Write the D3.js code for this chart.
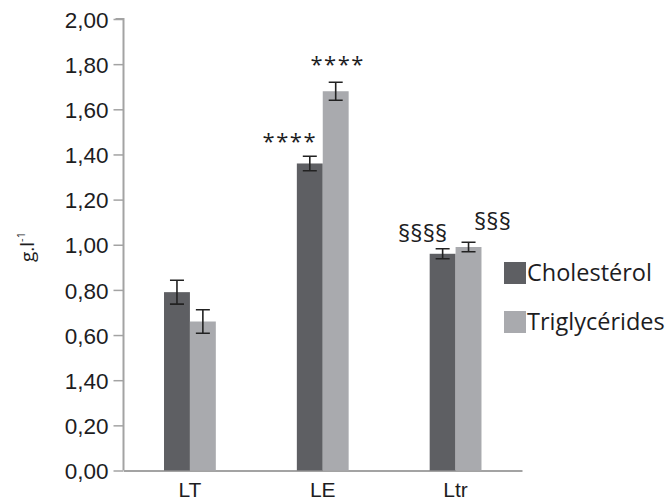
<!DOCTYPE html>
<html>
<head>
<meta charset="utf-8">
<script src="https://cdn.jsdelivr.net/npm/d3@7"></script>
<style>
  html, body { margin: 0; padding: 0; background: #fff; }
  svg { display: block; font-family: "Open Sans", "DejaVu Sans", sans-serif; }
</style>
</head>
<body>
<svg id="chart" width="666" height="502"></svg>
<script>
// Lipid groups on the x axis
const categories = ["LT", "LE", "Ltr"];
// Series names shown in the legend
const seriesNames = ["Cholestérol", "Triglycérides"];
// Mean concentrations (g/l) per group
const cholesterol = [0.79, 1.36, 0.96];
const triglycerides = [0.66, 1.68, 0.99];
// Error half-widths (g/l)
const cholesterolErr = [0.053, 0.032, 0.022];
const triglyceridesErr = [0.052, 0.040, 0.021];
// Significance marks above each bar
const cholesterolMarks = ["", "****", "§§§§"];
const triglyceridesMarks = ["", "****", "§§§"];
// Y tick values and their printed labels
const yTickValues = [0, 0.2, 0.4, 0.6, 0.8, 1.0, 1.2, 1.4, 1.6, 1.8, 2.0];
const yTickLabels = ["0,00", "0,20", "1,40", "0,60", "0,80", "1,00", "1,20", "1,40", "1,60", "1,80", "2,00"];

const colors = ["#5e5f63", "#a9aaae"];
const series = [
  { name: seriesNames[0], values: cholesterol, err: cholesterolErr, marks: cholesterolMarks, color: colors[0] },
  { name: seriesNames[1], values: triglycerides, err: triglyceridesErr, marks: triglyceridesMarks, color: colors[1] }
];
// horizontal nudge of each significance mark relative to its bar
const markShift = [[0, -20, -20], [0, 2, 24]];
const markLift = [[0, 15, 15], [0, 18, 21]];

const svg = d3.select("#chart");
const plotLeft = 123.5, plotRight = 522, plotTop = 19, plotBottom = 470.5;

const x = d3.scaleBand().domain(categories).range([plotLeft, plotRight]).paddingInner(0.61).paddingOuter(0.305);
const xs = d3.scaleBand().domain(d3.range(series.length)).range([0, x.bandwidth()]);
const y = d3.scaleLinear().domain([0, 2]).range([plotBottom, plotTop]);

const axisColor = "#a3a3a3";
const textColor = "#1d1d1f";

// Y axis with left ticks
const yAxis = svg.append("g")
  .attr("transform", `translate(${plotLeft},0)`)
  .call(d3.axisLeft(y).tickValues(yTickValues)
    .tickFormat((d, i) => yTickLabels[i]).tickSize(10).tickPadding(5));
yAxis.select(".domain").attr("stroke", axisColor).attr("stroke-width", 2)
  .attr("d", `M-8,${plotTop}H0V${plotBottom}`);
yAxis.selectAll(".tick line").attr("stroke", axisColor).attr("stroke-width", 1.5);
yAxis.selectAll(".tick text").attr("fill", textColor)
  .style("font-size", "22.5px").attr("dy", "0.36em");

// X axis line and group labels
const xAxis = svg.append("g")
  .attr("transform", `translate(0,${plotBottom})`)
  .call(d3.axisBottom(x).tickSize(0).tickPadding(12));
xAxis.select(".domain").attr("stroke", axisColor).attr("stroke-width", 2);
xAxis.selectAll(".tick text").attr("fill", textColor).style("font-size", "21px");

// Bars
const groups = svg.append("g").selectAll("g")
  .data(series).join("g");
groups.selectAll("rect")
  .data((s, si) => categories.map((c, i) => ({ c, i, si, v: s.values[i], color: s.color })))
  .join("rect")
  .attr("x", d => x(d.c) + xs(d.si))
  .attr("width", xs.bandwidth())
  .attr("y", d => y(d.v))
  .attr("height", d => y(0) - y(d.v))
  .attr("fill", d => d.color);

// Error bars
const errData = [];
series.forEach((s, si) => categories.forEach((c, i) => {
  errData.push({ cx: x(c) + xs(si) + xs.bandwidth() / 2, v: s.values[i], e: s.err[i], si, i, mark: s.marks[i] });
}));
const eb = svg.append("g").attr("stroke", "#222").attr("stroke-width", 1.6).attr("fill", "none");
eb.selectAll("path").data(errData).join("path")
  .attr("d", d => {
    const t = y(d.v + d.e), b = y(d.v - d.e), w = 7;
    return `M${d.cx},${t}V${b}M${d.cx - w},${t}H${d.cx + w}M${d.cx - w},${b}H${d.cx + w}`;
  });

// Significance marks
svg.append("g").selectAll("text").data(errData.filter(d => d.mark)).join("text")
  .attr("x", d => d.cx + markShift[d.si][d.i])
  .attr("y", d => y(d.v + d.e) - markLift[d.si][d.i])
  .attr("dy", "0.35em")
  .attr("text-anchor", "middle")
  .attr("fill", textColor)
  .style("font-size", d => d.mark.startsWith("*") ? "22px" : "24px")
  .style("letter-spacing", d => d.mark.startsWith("*") ? "1.5px" : "0px")
  .text(d => d.mark);

// Y axis title g.l-1
const yt = svg.append("text")
  .attr("transform", "translate(34,247) rotate(-90)")
  .attr("text-anchor", "middle")
  .attr("fill", textColor)
  .style("font-size", "19px");
yt.append("tspan").text("g.l");
yt.append("tspan").attr("dy", "-9").style("font-size", "11px").text("-1");

// Legend
const legend = svg.append("g").selectAll("g").data(series).join("g")
  .attr("transform", (d, i) => `translate(504,${262 + i * 49})`);
legend.append("rect").attr("width", 22).attr("height", 22).attr("fill", d => d.color);
legend.append("text").attr("x", 23).attr("y", 11).attr("dy", "0.36em")
  .attr("fill", textColor).style("font-size", "23.5px").text(d => d.name);
</script>
</body>
</html>
